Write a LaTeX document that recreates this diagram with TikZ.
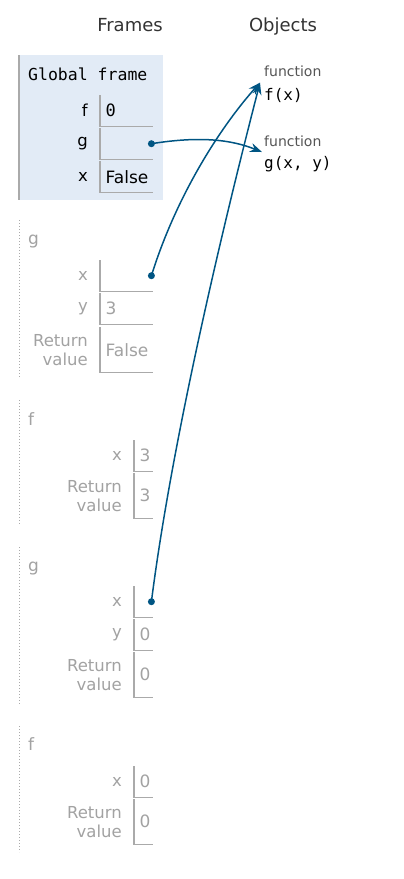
\documentclass[tikz,border=0pt]{standalone}
\usepackage{fontspec}
\setmainfont{DejaVu Sans}
\setmonofont{DejaVu Sans Mono}
\usetikzlibrary{positioning,arrows.meta}
\definecolor{ptArrow}{HTML}{005583}
\definecolor{ptGlobal}{HTML}{E2EBF6}
\definecolor{ptGrey}{HTML}{A2A2A2}
\definecolor{ptLine}{HTML}{AAAAAA}
\definecolor{ptHead}{HTML}{333333}
\definecolor{ptType}{HTML}{555555}

\begin{document}
\begin{tikzpicture}[x=1pt, y=-1pt,
      head/.style={anchor=base, font=\fontsize{18}{21}\selectfont, text=ptHead},
      fname/.style={anchor=west, inner sep=0pt, font=\fontsize{17}{20}\selectfont, text=ptGrey},
      vname/.style={inner sep=0pt, align=right, font=\fontsize{16.5}{19}\selectfont},
      vbox/.style 2 args={anchor=north west, inner xsep=5.5pt, inner ysep=0pt,
                text width=#1, minimum height=#2, align=left,
                font=\fontsize{17}{20}\selectfont},
      mono/.style={font=\ttfamily\fontsize{17}{20}\selectfont},
      off/.style={text=ptGrey},
      boxline/.style={draw=ptLine, line width=1.2pt},
      framedots/.style={draw=ptLine, line width=1pt, dotted},
      ptr/.style={circle, fill=ptArrow, inner sep=0pt, minimum size=7pt},
      pointer/.style={draw=ptArrow, line width=1.5pt, -{Stealth[length=12pt, width=9pt]}},
      objtype/.style={anchor=west, inner sep=0pt, font=\fontsize{14}{16}\selectfont, text=ptType},
      objval/.style={anchor=west, inner sep=0pt, font=\ttfamily\fontsize{16}{19}\selectfont}]
    \useasboundingbox (0,0) rectangle (404,879);

    \node[head] (frames)  at (130,31) {Frames};
    \node[head] (objects) at (283,31) {Objects};

    % global frame
    \fill[ptGlobal] (19,55) rectangle (163,200);
    \draw[ptLine, line width=1.5pt] (19,55) -- (19,200);
    \node[anchor=west, inner sep=0pt, font=\ttfamily\fontsize{16.5}{20}\selectfont] (glob) at (28,74) {Global frame};
    \node[vbox={42pt}{31pt}, mono] (gf) at (100,95)  {0};
    \node[vbox={42pt}{31pt}]       (gg) at (100,128) {};
    \node[vbox={42pt}{31pt}]       (gx) at (100,161) {False};
    \node[vname, left=12pt of gf] (gfn) {f};
    \node[vname, left=12pt of gg] (ggn) {g};
    \node[vname, left=12pt of gx] (gxn) {x};

    % g
    \draw[framedots] (19,220) -- (19,378);
    \node[fname] (g1) at (28,242) {g};
    \node[vbox={42pt}{31pt}]      (g1x) at (100,260) {};
    \node[vbox={42pt}{31pt}, off] (g1y) at (100,293) {3};
    \node[vbox={42pt}{45pt}, off] (g1r) at (100,327) {False};
    \node[vname, off, left=12pt of g1x] (g1xn) {x};
    \node[vname, off, left=12pt of g1y] (g1yn) {y};
    \node[vname, off, left=12pt of g1r] (g1rn) {Return\\value};

    % f
    \draw[framedots] (19,400) -- (19,525);
    \node[fname] (f1) at (28,419) {f};
    \node[vbox={8pt}{31pt}, off] (f1x) at (134,440) {3};
    \node[vbox={8pt}{45pt}, off] (f1r) at (134,473) {3};
    \node[vname, off, left=12pt of f1x] (f1xn) {x};
    \node[vname, off, left=12pt of f1r] (f1rn) {Return\\value};

    % g
    \draw[framedots] (19,547) -- (19,705);
    \node[fname] (g2) at (28,568) {g};
    \node[vbox={8pt}{31pt}]      (g2x) at (134,586) {};
    \node[vbox={8pt}{31pt}, off] (g2y) at (134,619) {0};
    \node[vbox={8pt}{45pt}, off] (g2r) at (134,652) {0};
    \node[vname, off, left=12pt of g2x] (g2xn) {x};
    \node[vname, off, left=12pt of g2y] (g2yn) {y};
    \node[vname, off, left=12pt of g2r] (g2rn) {Return\\value};

    % f
    \draw[framedots] (19,726) -- (19,852);
    \node[fname] (f2) at (28,744) {f};
    \node[vbox={8pt}{31pt}, off] (f2x) at (134,766) {0};
    \node[vbox={8pt}{45pt}, off] (f2r) at (134,799) {0};
    \node[vname, off, left=12pt of f2x] (f2xn) {x};
    \node[vname, off, left=12pt of f2r] (f2rn) {Return\\value};

    \foreach \b in {gf,gg,gx,g1x,g1y,g1r,f1x,f1r,g2x,g2y,g2r,f2x,f2r}
      \draw[boxline] (\b.north west) |- (\b.south east);

    % objects
    \node[objtype] (ftype) at (264,71)  {function};
    \node[objval]  (fobj)  at (264,95)  {f(x)};
    \node[objtype] (gtype) at (264,141) {function};
    \node[objval]  (gobj)  at (264,164) {g(x, y)};

    % pointers
    \node[ptr] (ggdot) at ([xshift=-2pt]gg.east)  {};
    \node[ptr] (g1dot) at ([xshift=-2pt]g1x.east) {};
    \node[ptr] (g2dot) at ([xshift=-2pt]g2x.east) {};
    \draw[pointer] (ggdot.center) .. controls +(50,-8) and +(-30,-12) .. ([xshift=-2pt, yshift=4pt]gobj.north west);
    \draw[pointer] (g1dot.center) .. controls +(25,-80) and +(-40,45) .. ([xshift=-4pt, yshift=5pt]fobj.north west);
    \draw[pointer] (g2dot.center) .. controls +(23,-181) and +(-25,97) .. ([xshift=-4pt, yshift=5pt]fobj.north west);
  \end{tikzpicture}
\end{document}
